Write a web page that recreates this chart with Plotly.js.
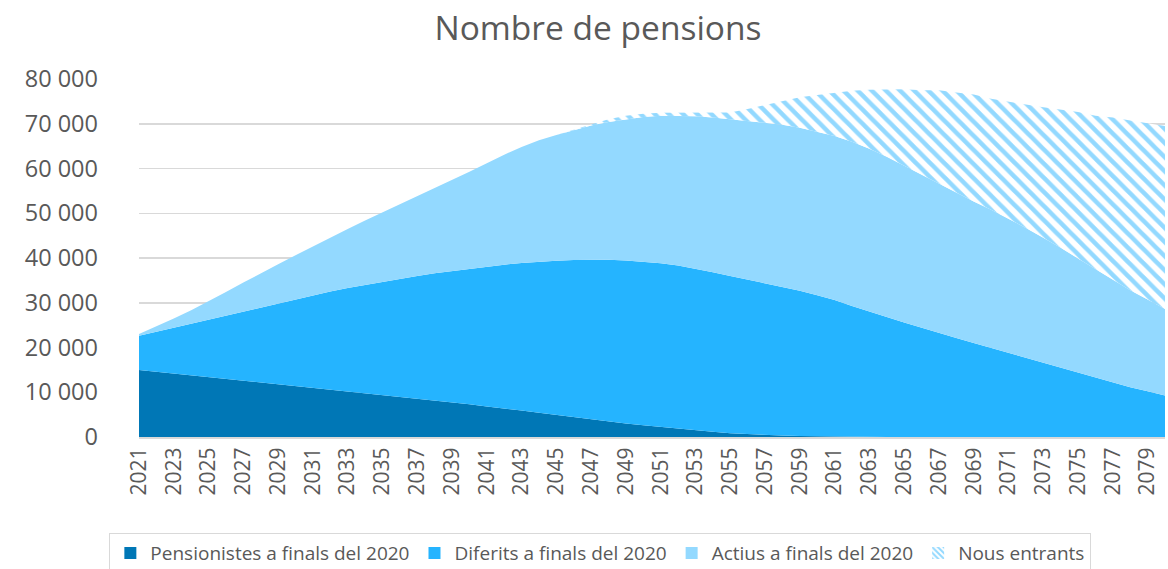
<!DOCTYPE html>
<html>
<head>
<meta charset="utf-8">
<script src="https://cdn.plot.ly/plotly-3.0.1.min.js"></script>
<style>
  html, body { margin: 0; padding: 0; background: #ffffff; }
  #chart { width: 1168px; height: 569px; }
</style>
</head>
<body>
<div id="chart"></div>
<script>
const years = [2021,2022,2023,2024,2025,2026,2027,2028,2029,2030,
  2031,2032,2033,2034,2035,2036,2037,2038,2039,2040,
  2041,2042,2043,2044,2045,2046,2047,2048,2049,2050,
  2051,2052,2053,2054,2055,2056,2057,2058,2059,2060,
  2061,2062,2063,2064,2065,2066,2067,2068,2069,2070,
  2071,2072,2073,2074,2075,2076,2077,2078,2079,2080];

const tickYears = [2021,2023,2025,2027,2029,2031,2033,2035,2037,2039,
  2041,2043,2045,2047,2049,2051,2053,2055,2057,2059,
  2061,2063,2065,2067,2069,2071,2073,2075,2077,2079];

const pensionistes = [15000,14600,14200,13800,13400,13000,12600,12200,11800,11300,
  10900,10500,10100,9700,9300,9000,8600,8200,7700,7300,
  6800,6400,5900,5400,4900,4400,3900,3400,3000,2600,
  2200,1850,1500,1150,850,620,450,320,220,150,
  90,50,25,10,0,0,0,0,0,0,
  0,0,0,0,0,0,0,0,0,0];

const diferits = [7650,8950,10250,11550,12850,14150,15450,16800,18100,19500,
  20800,22000,23200,24300,25400,26400,27400,28400,29400,30300,
  31300,32100,33000,33800,34500,35150,35700,36200,36450,36600,
  36600,36450,36100,35650,35150,34580,33850,33180,32480,31550,
  30510,29250,27975,26790,25600,24400,23300,22100,21000,19900,
  18800,17700,16600,15500,14400,13300,12200,11100,10200,9300];

const actius = [350,1150,2050,2950,4050,5250,6450,7600,8700,9800,
  10900,12100,13200,14400,15500,16600,17800,19000,20400,21700,
  23100,24600,25900,27100,28100,29050,30000,30800,31550,32300,
  33000,33500,34100,34600,35000,35500,36000,36300,36400,36550,
  36650,36650,36400,35800,35000,34100,33200,32400,31650,30900,
  30000,29000,27900,26800,25500,24200,22900,21700,20500,19300];

const nousEntrants = [0,0,0,0,0,0,0,0,0,0,
  0,0,0,0,0,0,0,0,0,0,
  0,0,0,0,0,100,300,600,800,750,
  650,650,750,1000,1500,2600,3900,5200,6800,8200,
  9700,11400,13200,15100,17100,19000,21000,22500,23900,24800,
  26100,27600,29200,30800,32700,34300,36300,37900,39400,40900];

const seriesNames = ["Pensionistes a finals del 2020", "Diferits a finals del 2020", "Actius a finals del 2020", "Nous entrants"];
const seriesColors = ["#0077B6", "#25B4FF", "#93D9FF", "#93D9FF"];
const seriesValues = [pensionistes, diferits, actius, nousEntrants];

const traces = [];
seriesValues.forEach((vals, i) => {
  const t = {
    type: "scatter",
    mode: "lines",
    x: years,
    y: vals,
    name: seriesNames[i],
    stackgroup: "one",
    line: { width: 0, color: seriesColors[i] },
    fillcolor: seriesColors[i],
    showlegend: false,
    hoverinfo: "x+y+name"
  };
  if (i === 3) {
    t.fillcolor = "#ffffff";
    t.fillpattern = { shape: "\\", fgcolor: "#93D9FF", bgcolor: "#ffffff", size: 10, solidity: 0.45 };
  }
  traces.push(t);
});
// legend entries (square swatches)
seriesValues.forEach((vals, i) => {
  const m = { color: seriesColors[i] };
  if (i === 3) {
    m.color = "#ffffff";
    m.pattern = { shape: "\\", fgcolor: "#93D9FF", bgcolor: "#ffffff", size: 5, solidity: 0.5 };
  }
  traces.push({
    type: "bar", x: [null], y: [null], name: seriesNames[i],
    marker: m, showlegend: true, hoverinfo: "skip"
  });
});

const layout = {
  width: 1168, height: 569,
  paper_bgcolor: "#ffffff", plot_bgcolor: "#ffffff",
  separators: ", ",
  font: { family: "Open Sans, sans-serif", color: "#595959" },
  margin: { l: 139, r: 3, t: 79, b: 131.5, pad: 0, autoexpand: false },
  title: {
    text: "Nombre de pensions",
    font: { family: "Open Sans, sans-serif", size: 33.5, color: "#595959" },
    x: 0.512, xanchor: "center", xref: "container",
    y: 0.95, yanchor: "middle", yref: "container"
  },
  xaxis: {
    type: "linear",
    range: [2021, 2080],
    tickmode: "array",
    tickvals: tickYears,
    ticktext: tickYears.map(String),
    tickangle: -90,
    tickfont: { size: 21, color: "#595959" },
    showgrid: false,
    zeroline: false,
    showline: true,
    linecolor: "#d9d9d9",
    linewidth: 2,
    ticks: "",
    fixedrange: true
  },
  yaxis: {
    range: [0, 80000],
    dtick: 10000,
    tickformat: ",d",
    tickfont: { size: 23.5, color: "#595959" },
    showgrid: true,
    gridcolor: "#d9d9d9",
    gridwidth: 1.5,
    zeroline: false,
    showline: false,
    ticks: "",
    ticklabelstandoff: 40,
    fixedrange: true
  },
  showlegend: true,
  legend: {
    orientation: "h",
    xref: "container", yref: "container",
    x: 0.514, xanchor: "center",
    y: 0.063, yanchor: "top",
    bordercolor: "#d9d9d9",
    borderwidth: 1,
    font: { size: 19, color: "#595959" },
    itemwidth: 30,
    traceorder: "normal"
  },
  barmode: "overlay"
};

Plotly.newPlot("chart", traces, layout, { displayModeBar: false, staticPlot: true });
</script>
</body>
</html>
